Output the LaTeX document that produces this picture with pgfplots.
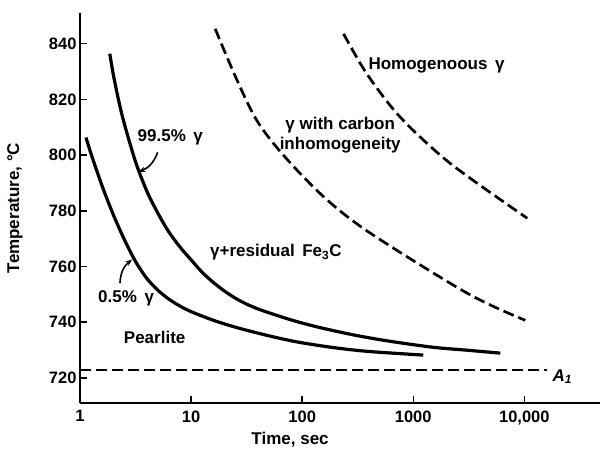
\documentclass[border=0pt]{standalone}
\usepackage{fontspec}
\setmainfont{Liberation Sans}
\usepackage{pgfplots}
\pgfplotsset{compat=1.18}
\usetikzlibrary{arrows.meta}
\begin{document}
\begin{tikzpicture}[x=1pt,y=1pt]
\useasboundingbox (0,0) rectangle (607,459);
\begin{axis}[
 at={(80pt,56pt)}, anchor=south west,
 scale only axis, width=520pt, height=390pt,
 xmode=log, xmin=1, xmax=48000, ymin=711, ymax=851,
 axis lines=left, axis line style={-, line width=2.2pt},
 xtick={1,10,100,1000,10000}, xticklabels={1,10,100,1000,{10,000}},
 ytick={720,740,...,840},
 xminorticks=false, yminorticks=false,
 tick align=inside, major tick length=7pt, tick style={line width=1.5pt, black},
 /pgf/number format/assume math mode=true,
 ticklabel style={font=\fontsize{16.5}{19}\selectfont\bfseries},
 xticklabel style={yshift=-4pt},
 clip=false,
]
\addplot[black, line width=3.2pt, smooth] coordinates {
(1.132,806.3) (1.259,800.4) (1.585,788.8) (1.995,778.6) (2.512,769.6) (3.162,761.8) (3.981,755.8) (5.012,751.5) (6.31,748.3) (7.943,745.8) (10,743.8) (15.85,740.7) (25.12,738.2) (39.81,736.1) (63.1,734.2) (100,732.6) (199.5,730.8) (398,729.5) (1230,728.2)};
\addplot[black, line width=3.2pt, smooth] coordinates {
(1.854,836.4) (1.995,828.9) (2.239,819.2) (2.512,811.1) (3.162,797.6) (3.981,787.2) (5.012,779.2) (6.31,772.4) (7.943,767.0) (10,762.4) (12.59,757.9) (15.85,754.3) (19.95,751.2) (25.12,748.6) (31.62,746.5) (39.81,744.8) (50.12,743.4) (70.8,741.45) (100,739.7) (158.5,737.7) (316.2,735.15) (631,733.1) (1514,731.0) (3162,729.9) (6080,728.9)};
\addplot[black, line width=2.7pt, dash pattern=on 11pt off 5pt, smooth] coordinates {
(16.5,845.3) (39.1,812.4) (118,789.7) (355,773.7) (3065,750.4) (10200,740.7)};
\addplot[black, line width=2.7pt, dash pattern=on 11pt off 5pt, smooth] coordinates {
(236,843.5) (383,829.1) (764,813.6) (2155,797) (10640,777.3)};
\addplot[black, line width=2.7pt, dash pattern=on 11pt off 5pt] coordinates {
(1,722.8) (16000,722.8)};

\begin{scope}[every node/.style={font=\fontsize{17}{20}\selectfont\bfseries}]
\node at (axis cs:1620,832) {Homogenoous\, γ};
\node[align=center] at (axis cs:220,807) {γ with carbon\\inhomogeneity};
\node at (axis cs:6.5,806.3) {99.5\%\, γ};
\node at (axis cs:58,765) {γ+residual\, Fe\textsubscript{3}C};
\node at (axis cs:2.6,748.6) {0.5\%\, γ};
\node at (axis cs:4.7,734.6) {Pearlite};
\node at (axis cs:22000,720.5) {\itshape A\textsubscript{1}};
\node at (rel axis cs:0.404,-0.095) {Time, sec};
\node[rotate=90] at (rel axis cs:-0.125,0.5) {Temperature, °C};
\end{scope}
\draw[line width=1.6pt, -{Stealth[length=7pt]}] (axis cs:5.0,801) to[bend left=25] (axis cs:3.35,794);
\draw[line width=1.6pt, -{Stealth[length=7pt]}] (axis cs:2.29,754) to[bend left=25] (axis cs:2.95,762.5);
\end{axis}
\end{tikzpicture}
\end{document}
